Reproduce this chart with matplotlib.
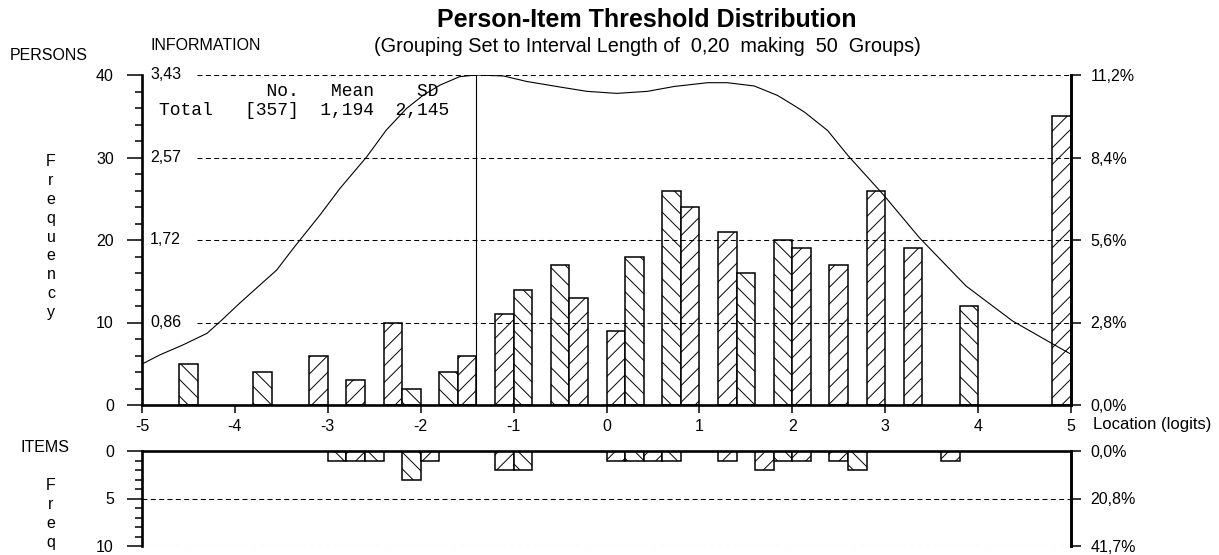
import numpy as np
import matplotlib.pyplot as plt

plt.rcParams['font.family'] = ['Liberation Sans', 'DejaVu Sans']
plt.rcParams['axes.unicode_minus'] = False
plt.rcParams['hatch.color'] = 'black'
plt.rcParams['hatch.linewidth'] = 0.7
plt.rcParams['lines.scale_dashes'] = False

# 50 groups of 0.2 logits from -5 to 5
group_edges = np.round(np.arange(-5, 5, 0.2), 2)
person_counts = [0, 0, 5, 0, 0, 0, 4, 0, 0, 6,
                 0, 3, 0, 10, 2, 0, 4, 6, 0, 11,
                 14, 0, 17, 13, 0, 9, 18, 0, 26, 24,
                 0, 21, 16, 0, 20, 19, 0, 17, 0, 26,
                 0, 19, 0, 0, 12, 0, 0, 0, 0, 35]
item_counts = [0, 0, 0, 0, 0, 0, 0, 0, 0, 0,
               1, 1, 1, 0, 3, 1, 0, 0, 0, 2,
               2, 0, 0, 0, 0, 1, 1, 1, 1, 0,
               0, 1, 0, 2, 1, 1, 0, 1, 2, 0,
               0, 0, 0, 1, 0, 0, 0, 0, 0, 0]

# test information function
info_x = [-5.0, -4.81, -4.56, -4.30, -4.16, -3.95, -3.77, -3.55, -3.37, -3.08,
          -2.87, -2.58, -2.37, -2.15, -1.97, -1.79, -1.58, -1.40, -1.11, -0.86,
          -0.50, -0.21, 0.11, 0.44, 0.73, 1.09, 1.30, 1.59, 1.84, 1.98,
          2.13, 2.38, 2.60, 2.98, 3.37, 3.87, 4.37, 4.87, 5.0]
info_y = [0.425, 0.520, 0.624, 0.745, 0.866, 1.057, 1.213, 1.403, 1.630, 1.980,
          2.250, 2.581, 2.858, 3.084, 3.222, 3.326, 3.413, 3.430, 3.420, 3.363,
          3.305, 3.260, 3.239, 3.260, 3.311, 3.350, 3.350, 3.316, 3.218, 3.136,
          3.045, 2.853, 2.592, 2.186, 1.737, 1.237, 0.874, 0.598, 0.528]
info_max = 3.43
info_peak = -1.40

person_mean = 1.194
person_sd = 2.145
person_ticks = [0, 10, 20, 30, 40]
item_ticks = [0, 5, 10]
x_ticks = [-5, -4, -3, -2, -1, 0, 1, 2, 3, 4, 5]

n_persons = sum(person_counts)
n_items = sum(item_counts)

W, H = 1219, 555
def fx(x):
    return x / W
def fy(y):
    return 1 - y / H

def comma(v, nd):
    return f"{v:.{nd}f}".replace('.', ',')

fig = plt.figure(figsize=(W / 100, H / 100), dpi=100)
ax = fig.add_axes([fx(142), fy(405), fx(929), 330 / H])
ax2 = fig.add_axes([fx(142), fy(546), fx(929), 95 / H])

dash = (0, (3.6, 2.4))
spine_w = 1.9
lab = 11.5

def hatched_bars(a, counts):
    for k, c in enumerate(counts):
        if c == 0:
            continue
        a.bar(group_edges[k], c, width=0.2, align='edge', facecolor='white',
              edgecolor='black', linewidth=1.1,
              hatch='\\\\' if k % 2 == 0 else '//', zorder=1)

# ---- persons panel ----
hatched_bars(ax, person_counts)
ax.set_xlim(-5, 5)
ax.set_ylim(0, 40)
ax.hlines(person_ticks[1:], -4.41, 5, colors='black', linewidth=0.75,
          linestyles=dash, zorder=3)
ax.vlines(info_peak, 0, 40, colors='black', linewidth=0.8, zorder=3)
ax.set_yticks(person_ticks)
ax.set_yticks(np.arange(0, 41, 2), minor=True)
ax.set_xticks(x_ticks)
ax.tick_params(axis='y', which='major', length=10.8, width=1.1, pad=9.5, labelsize=lab)
ax.tick_params(axis='y', which='minor', length=5, width=1.1)
ax.tick_params(axis='x', length=6, width=1.1, pad=4, labelsize=lab)
ax.spines['top'].set_visible(False)
for s in ['left', 'bottom', 'right']:
    ax.spines[s].set_linewidth(spine_w)

ax_info = ax.twinx()
ax_info.set_ylim(0, info_max)
ax_info.plot(info_x, info_y, color='black', linewidth=0.8, zorder=4)
ax_info.axis('off')
for c in person_ticks[1:]:
    v = info_max * c / 40
    ax_info.text(-4.914, v, comma(v, 2), fontsize=lab, va='center', ha='left')

ax_pct = ax.twinx()
ax_pct.set_ylim(0, 40)
ax_pct.set_yticks(person_ticks)
ax_pct.set_yticklabels([comma(c / n_persons * 100, 1) + '%' for c in person_ticks])
ax_pct.tick_params(axis='y', length=7.2, width=1.1, pad=7, labelsize=lab)
for s in ['left', 'top', 'bottom']:
    ax_pct.spines[s].set_visible(False)
ax_pct.spines['right'].set_linewidth(spine_w)

# ---- items panel ----
hatched_bars(ax2, item_counts)
ax2.set_xlim(-5, 5)
ax2.set_ylim(10, 0)
ax2.hlines(item_ticks[1:], -5, 5, colors='black', linewidth=0.75,
           linestyles=dash, zorder=3)
ax2.set_xticks([])
ax2.set_yticks(item_ticks)
ax2.set_yticks(np.arange(0, 11, 1), minor=True)
ax2.tick_params(axis='y', which='major', length=10.8, width=1.1, pad=9.5, labelsize=lab)
ax2.tick_params(axis='y', which='minor', length=5, width=1.1)
ax2.spines['bottom'].set_visible(False)
for s in ['left', 'top', 'right']:
    ax2.spines[s].set_linewidth(spine_w)

ax2_pct = ax2.twinx()
ax2_pct.set_ylim(10, 0)
ax2_pct.set_yticks(item_ticks)
ax2_pct.set_yticklabels([comma(c / n_items * 100, 1) + '%' for c in item_ticks])
ax2_pct.tick_params(axis='y', length=7.2, width=1.1, pad=7, labelsize=lab)
for s in ['left', 'top', 'bottom']:
    ax2_pct.spines[s].set_visible(False)
ax2_pct.spines['right'].set_linewidth(spine_w)

# ---- titles and labels ----
fig.text(fx(647), fy(20), "Person-Item Threshold Distribution", fontsize=18,
         fontweight='bold', ha='center', va='center')
fig.text(fx(647), fy(47),
         "(Grouping Set to Interval Length of  0,20  making  50  Groups)",
         fontsize=14.3, ha='center', va='center')
fig.text(fx(10), fy(56), "PERSONS", fontsize=lab, va='center')
fig.text(fx(150), fy(46), "INFORMATION", fontsize=lab, va='center')
fig.text(fx(20), fy(448), "ITEMS", fontsize=lab, va='center')
fig.text(fx(1093), fy(425), "Location (logits)", fontsize=12, va='center')

for i, ch in enumerate("Frequency"):
    fig.text(fx(51), fy(162 + 18.75 * i), ch, fontsize=lab, ha='center', va='center')
for i, ch in enumerate("Freq"):
    fig.text(fx(51), fy(485 + 19.3 * i), ch, fontsize=lab, ha='center', va='center')

stats_head = "          No.   Mean    SD"
stats_row = f"Total   [{n_persons}]  {comma(person_mean, 3)}  {comma(person_sd, 3)}"
fig.text(fx(159), fy(96.5), stats_head, family='Liberation Mono', fontsize=13, va='baseline')
fig.text(fx(159), fy(115), stats_row, family='Liberation Mono', fontsize=13, va='baseline')

fig.savefig("out.png", dpi=100)
